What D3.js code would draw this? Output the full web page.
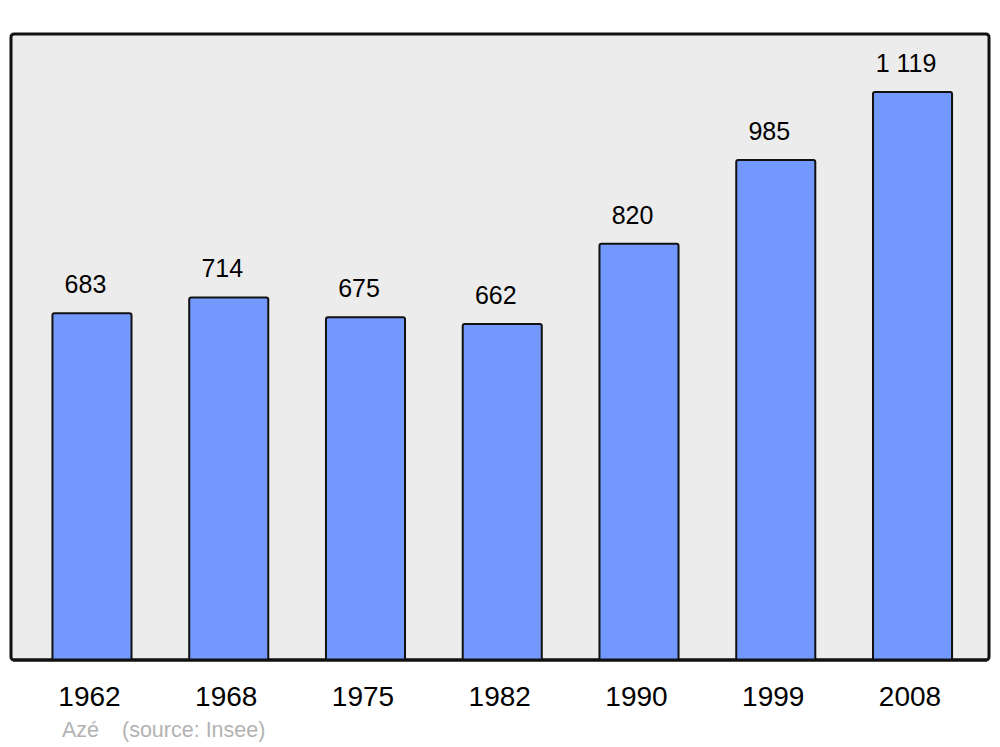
<!DOCTYPE html>
<html><head><meta charset="utf-8">
<script src="https://cdn.jsdelivr.net/npm/d3@7"></script>
<style>body{margin:0;background:#fff;}svg{display:block;font-family:"Liberation Sans",Arial,sans-serif;}</style>
</head><body>
<script>
const years = ["1962","1968","1975","1982","1990","1999","2008"];
const population = [683, 714, 675, 662, 820, 985, 1119];
const valueLabels = ["683","714","675","662","820","985","1 119"];
const commune = "Azé";
const sourceText = "(source: Insee)";

const W = 1000, H = 747;
const svg = d3.select("body").append("svg").attr("width", W).attr("height", H);

const frame = {x0: 11, y0: 34, x1: 989, y1: 660};

svg.append("rect").attr("x", frame.x0).attr("y", frame.y0)
  .attr("width", frame.x1 - frame.x0).attr("height", frame.y1 - frame.y0)
  .attr("rx", 3).attr("fill", "#ececec").attr("stroke", "#111").attr("stroke-width", 3);

const x = d3.scaleBand().domain(years).range([23.6, 980.9]).paddingInner(0.422).paddingOuter(0.211);
const y = d3.scaleLinear().domain([0, 1233]).range([frame.y1, frame.y0]);

const data = years.map((yr, i) => ({yr, v: population[i], lab: valueLabels[i]}));

svg.selectAll("path.bar").data(data).enter().append("path")
  .attr("class", "bar")
  .attr("d", d => {
    const x0 = x(d.yr), x1 = x0 + x.bandwidth(), y0 = y(d.v), yb = y(0), r = 2;
    return `M${x0},${yb}V${y0 + r}Q${x0},${y0} ${x0 + r},${y0}H${x1 - r}Q${x1},${y0} ${x1},${y0 + r}V${yb}Z`;
  })
  .attr("fill", "#7399ff").attr("stroke", "#111").attr("stroke-width", 2);

svg.append("line").attr("x1", frame.x0 + 2).attr("x2", frame.x1 - 2).attr("y1", frame.y1).attr("y2", frame.y1)
  .attr("stroke", "#111").attr("stroke-width", 3);

svg.selectAll("text.val").data(data).enter().append("text")
  .attr("class", "val")
  .attr("x", d => x(d.yr) + x.bandwidth() / 2 - 6.5)
  .attr("y", d => y(d.v) - 20)
  .attr("text-anchor", "middle").attr("font-size", 25).attr("fill", "#000")
  .text(d => d.lab);

svg.selectAll("text.yr").data(data).enter().append("text")
  .attr("class", "yr")
  .attr("x", d => x(d.yr) + x.bandwidth() / 2 - 2.5)
  .attr("y", 706)
  .attr("text-anchor", "middle").attr("font-size", 28).attr("fill", "#000")
  .text(d => d.yr);

svg.append("text").attr("x", 62).attr("y", 737).attr("font-size", 21.5).attr("fill", "#b3b3b3").text(commune);
svg.append("text").attr("x", 122).attr("y", 737).attr("font-size", 21.5).attr("fill", "#b3b3b3").text(sourceText);
</script>
</body></html>
